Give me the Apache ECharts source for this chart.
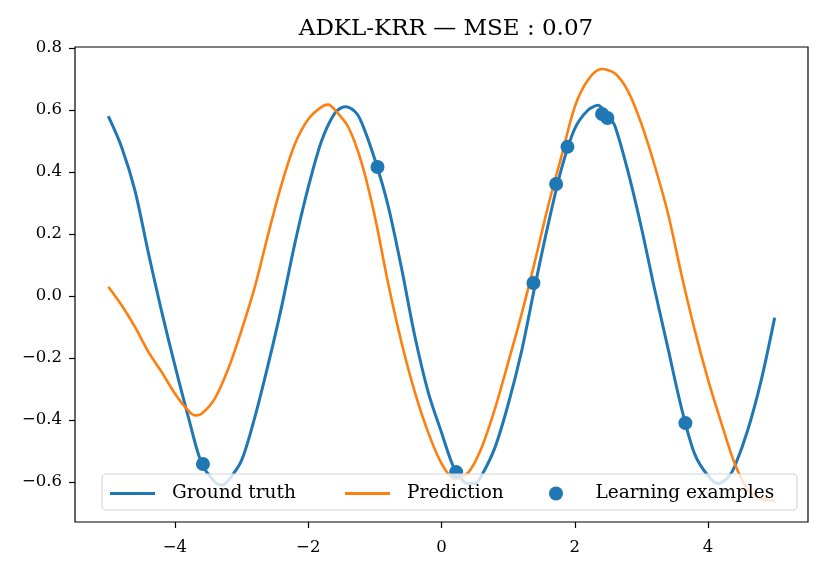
<!DOCTYPE html>
<html>
<head>
<meta charset="utf-8">
<script src="https://cdn.jsdelivr.net/npm/echarts@6/dist/echarts.min.js"></script>
<style>
	html, body { margin: 0; padding: 0; background: #fff; }
	#chart { width: 831px; height: 573px; }
</style>
</head>
<body>
<div id="chart"></div>
<script>
var truthX = [ -5.0, -4.8, -4.6, -4.4, -4.2, -4.0, -3.8, -3.6, -3.4, -3.3, -3.2, -3.0, -2.8, -2.6, -2.4, -2.2, -2.0, -1.8, -1.6, -1.45, -1.3, -1.2, -1.0,
	-0.8, -0.6, -0.4, -0.2, 0.0, 0.2, 0.4, 0.5, 0.6, 0.8, 1.0, 1.2, 1.4, 1.6, 1.8, 2.0, 2.2, 2.35, 2.5, 2.6, 2.8, 3.0,
	3.2, 3.4, 3.6, 3.8, 4.0, 4.15, 4.3, 4.4, 4.6, 4.8, 5.0 ];
var truthY = [ 0.58, 0.48, 0.34, 0.14, -0.05, -0.225, -0.39, -0.54, -0.60, -0.61, -0.595, -0.53, -0.39, -0.22, -0.035, 0.17, 0.35, 0.50, 0.59, 0.61, 0.595, 0.56, 0.44,
	0.29, 0.09, -0.13, -0.31, -0.44, -0.56, -0.605, -0.605, -0.58, -0.49, -0.35, -0.18, 0.03, 0.23, 0.41, 0.54, 0.60, 0.615, 0.58, 0.55, 0.40, 0.22,
	0.02, -0.17, -0.36, -0.51, -0.58, -0.605, -0.585, -0.55, -0.43, -0.27, -0.07 ];

var predX = [ -5.0, -4.8, -4.6, -4.4, -4.2, -4.0, -3.8, -3.7, -3.6, -3.4, -3.2, -3.0, -2.8, -2.6, -2.4, -2.2, -2.0, -1.8, -1.7, -1.6, -1.4, -1.2, -1.0,
	-0.8, -0.6, -0.4, -0.2, 0.0, 0.2, 0.4, 0.6, 0.8, 1.0, 1.2, 1.4, 1.6, 1.8, 2.0, 2.2, 2.4, 2.6, 2.8, 3.0,
	3.2, 3.4, 3.6, 3.8, 4.0, 4.2, 4.4, 4.6, 4.8, 5.0 ];
var predY = [ 0.03, -0.03, -0.10, -0.18, -0.245, -0.315, -0.37, -0.385, -0.38, -0.33, -0.235, -0.11, 0.03, 0.20, 0.36, 0.49, 0.57, 0.61, 0.617, 0.60, 0.545, 0.43, 0.256,
	0.04, -0.15, -0.31, -0.44, -0.54, -0.59, -0.57, -0.49, -0.365, -0.215, -0.06, 0.11, 0.29, 0.45, 0.61, 0.697, 0.732, 0.718, 0.66, 0.555,
	0.42, 0.265, 0.07, -0.11, -0.27, -0.41, -0.54, -0.625, -0.655, -0.66 ];

var sampleX = [ -3.58, -0.96, 0.22, 1.38, 1.72, 1.89, 2.41, 2.49, 3.66 ];
var sampleY = [ -0.542, 0.416, -0.568, 0.042, 0.361, 0.481, 0.587, 0.574, -0.41 ];

var xTicks = [ -4, -2, 0, 2, 4 ];
var yTicks = [ -0.6, -0.4, -0.2, 0.0, 0.2, 0.4, 0.6, 0.8 ];

function zip(xs, ys) {
	var out = [];
	for ( var i = 0; i < xs.length; i++) {
		out.push([ xs[i], ys[i] ]);
	}
	return out;
}
function minus(s) {
	return String(s).replace('-', '\u2212');
}

var font = 'DejaVu Serif';
var chart = echarts.init(document.getElementById('chart'));
var legendText = { fontFamily : font, fontSize : 18.5, color : '#000', padding : [ 0, 0, 0, 12 ] };
// a thin bar for the line handles, kept at its aspect inside a 45x14 box
var barIcon = 'path://M0,0L45,0L45,3L0,3Z';

var option = {
	animation : false,
	title : {
		text : 'ADKL-KRR \u2014 MSE : 0.07',
		left : 441,
		textAlign : 'center',
		top : 13,
		textStyle : { fontFamily : font, fontSize : 23, fontWeight : 'normal', color : '#000' }
	},
	grid : {
		left : 75,
		right : 23,
		top : 47,
		bottom : 51,
		show : true,
		borderColor : '#000',
		borderWidth : 1.2
	},
	xAxis : {
		type : 'value',
		min : -5.5,
		max : 5.5,
		splitLine : { show : false },
		axisLine : { show : false, onZero : false },
		axisTick : { show : true, inside : false, length : 6, customValues : xTicks, lineStyle : { color : '#000', width : 1.2 } },
		axisLabel : {
			customValues : xTicks,
			margin : 17,
			fontFamily : font,
			fontSize : 16.5,
			color : '#000',
			formatter : function(v) { return minus(v); }
		}
	},
	yAxis : {
		type : 'value',
		min : -0.729,
		max : 0.803,
		splitLine : { show : false },
		axisLine : { show : false, onZero : false },
		axisTick : { show : true, inside : false, length : 6, customValues : yTicks, lineStyle : { color : '#000', width : 1.2 } },
		axisLabel : {
			customValues : yTicks,
			margin : 13,
			fontFamily : font,
			fontSize : 16.5,
			color : '#000',
			formatter : function(v) { return minus(v.toFixed(1)); }
		}
	},
	legend : [ {
		left : 110, top : 484, padding : 0, itemWidth : 45, itemHeight : 14, symbolKeepAspect : true,
		data : [ { name : 'Ground truth', icon : barIcon } ], textStyle : legendText
	}, {
		left : 345, top : 484, padding : 0, itemWidth : 45, itemHeight : 14, symbolKeepAspect : true,
		data : [ { name : 'Prediction', icon : barIcon } ], textStyle : legendText
	}, {
		left : 549, top : 484, padding : 0, itemWidth : 45, itemHeight : 14,
		data : [ { name : 'Learning examples', icon : 'circle' } ], textStyle : legendText
	} ],
	graphic : [ {
		type : 'rect',
		z : 3,
		shape : { x : 102, y : 474, width : 695, height : 36, r : 4 },
		style : { fill : 'rgba(255,255,255,0.8)', stroke : '#d6d6d6', lineWidth : 1.2 }
	} ],
	series : [ {
		name : 'Ground truth',
		type : 'line',
		data : zip(truthX, truthY),
		symbol : 'none',
		smooth : 0.3,
		color : '#1f77b4',
		lineStyle : { width : 3, color : '#1f77b4' },
		z : 2
	}, {
		name : 'Prediction',
		type : 'line',
		data : zip(predX, predY),
		symbol : 'none',
		smooth : 0.3,
		color : '#ff7f0e',
		lineStyle : { width : 2.6, color : '#ff7f0e' },
		z : 2
	}, {
		name : 'Learning examples',
		type : 'scatter',
		data : zip(sampleX, sampleY),
		symbol : 'circle',
		symbolSize : 14,
		color : '#1f77b4',
		itemStyle : { color : '#1f77b4', opacity : 1 },
		z : 2.5
	} ]
};
chart.setOption(option);
window.onresize = chart.resize;
</script>
</body>
</html>
